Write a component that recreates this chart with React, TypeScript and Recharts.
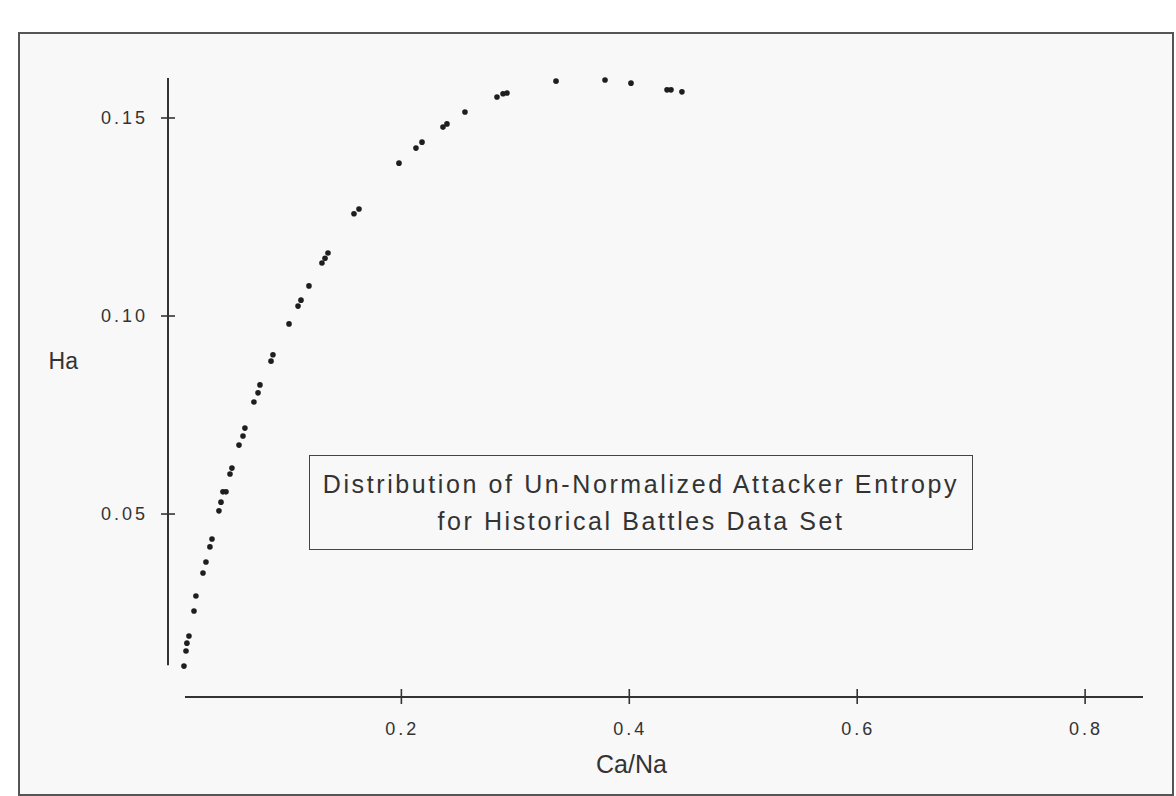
import { ScatterChart, Scatter, XAxis, YAxis, ReferenceLine } from "recharts"

// Ca/Na ratio and unnormalized attacker entropy
const caNa = [
  0.0092, 0.011, 0.0118, 0.0136, 0.018, 0.0197, 0.0259, 0.0285, 0.032, 0.0338,
  0.0399, 0.0417, 0.0434, 0.0461, 0.0496, 0.0513, 0.0575, 0.061, 0.0627, 0.0706,
  0.0742, 0.0759, 0.0856, 0.0873, 0.1014, 0.1093, 0.1119, 0.1189, 0.1303, 0.133,
  0.1356, 0.1584, 0.1628, 0.1979, 0.2128, 0.2181, 0.2365, 0.24, 0.2558, 0.2839,
  0.2892, 0.2927, 0.3357, 0.3787, 0.4015, 0.4331, 0.4366, 0.4462,
]
const ha = [
  0.0116, 0.0154, 0.0174, 0.0192, 0.0255, 0.0293, 0.0351, 0.0379, 0.0417, 0.0437,
  0.0508, 0.053, 0.0556, 0.0556, 0.0601, 0.0616, 0.0674, 0.0697, 0.0717, 0.0783,
  0.0806, 0.0826, 0.0886, 0.0902, 0.098, 0.1025, 0.104, 0.1076, 0.1134, 0.1146,
  0.1159, 0.1258, 0.127, 0.1386, 0.1424, 0.1439, 0.1477, 0.1485, 0.1515, 0.1553,
  0.1561, 0.1563, 0.1593, 0.1596, 0.1588, 0.1571, 0.1571, 0.1566,
]
const xTicks = [0.2, 0.4, 0.6, 0.8]
const yTicks = [0.05, 0.1, 0.15]

const points = caNa.map((x, i) => ({ x, y: ha[i] }))

const X_DOMAIN: [number, number] = [-0.0048, 0.8508]
const Y_DOMAIN: [number, number] = [0.0038, 0.1606]

const ink = "#333"
const font = "'Liberation Sans', Arial, sans-serif"

function YTick({ x, y, payload }: any) {
  return (
    <g>
      <line x1={x - 7} x2={x + 7} y1={y} y2={y} stroke={ink} strokeWidth={1.6} />
      <text x={x - 20} y={y} textAnchor="end" dominantBaseline="central" fontSize={18} letterSpacing={3} fill={ink} fontFamily={font}>
        {payload.value.toFixed(2)}
      </text>
    </g>
  )
}

function XTick({ x, y, payload }: any) {
  return (
    <g>
      <line x1={x} x2={x} y1={y - 8} y2={y + 7} stroke={ink} strokeWidth={1.6} />
      <text x={x + 1} y={y + 32} textAnchor="middle" dominantBaseline="central" fontSize={18} letterSpacing={3} fill={ink} fontFamily={font}>
        {payload.value.toFixed(1)}
      </text>
    </g>
  )
}

const Dot = (props: any) => <circle cx={props.cx} cy={props.cy} r={2.8} fill="#1e1e1e" />

export default function App() {
  return (
    <div style={{ position: "absolute", left: 0, top: 0, width: 1176, height: 796, background: "#ffffff", fontFamily: font }}>
      {/* scanned page frame */}
      <div style={{ position: "absolute", left: 18, top: 32, width: 1152, height: 760, border: "2px solid #555", background: "#f8f8f8" }} />

      <div style={{ position: "absolute", left: 0, top: 0 }}>
        <ScatterChart width={1176} height={796} margin={{ top: 76, left: 108, right: 33, bottom: 69 }}>
          <XAxis
            type="number"
            dataKey="x"
            domain={X_DOMAIN}
            ticks={xTicks}
            height={30}
            tickSize={0}
            tickMargin={0}
            axisLine={false}
            tickLine={false}
            tick={<XTick />}
            allowDataOverflow
            interval={0}
            label={{ value: "Ca/Na", position: "bottom", offset: 28, dx: -24, fontSize: 25, fill: ink, fontFamily: font }}
          />
          <YAxis
            type="number"
            dataKey="y"
            domain={Y_DOMAIN}
            ticks={yTicks}
            width={60}
            tickSize={0}
            tickMargin={0}
            axisLine={false}
            tickLine={false}
            tick={<YTick />}
            allowDataOverflow
            interval={0}
            label={{ value: "Ha", position: "left", offset: 30, dy: -26, fontSize: 23, fill: ink, fontFamily: font }}
          />
          <ReferenceLine
            segment={[{ x: -0.0048, y: 0.0118 }, { x: -0.0048, y: 0.1601 }]}
            stroke={ink}
            strokeWidth={2}
            ifOverflow="visible"
          />
          <ReferenceLine
            segment={[{ x: 0.0101, y: 0.0038 }, { x: 0.8508, y: 0.0038 }]}
            stroke={ink}
            strokeWidth={2}
            ifOverflow="visible"
          />
          <Scatter data={points} shape={Dot} isAnimationActive={false} />
        </ScatterChart>
      </div>

      {/* caption box */}
      <div
        style={{
          position: "absolute",
          left: 309,
          top: 455,
          width: 664,
          height: 95,
          border: "1.5px solid #444",
          color: ink,
          fontSize: 25,
          letterSpacing: 2.6,
          lineHeight: "37px",
          textAlign: "center",
          paddingTop: 10,
          boxSizing: "border-box",
        }}
      >
        <div>Distribution of Un-Normalized Attacker Entropy</div>
        <div>for Historical Battles Data Set</div>
      </div>
    </div>
  )
}
